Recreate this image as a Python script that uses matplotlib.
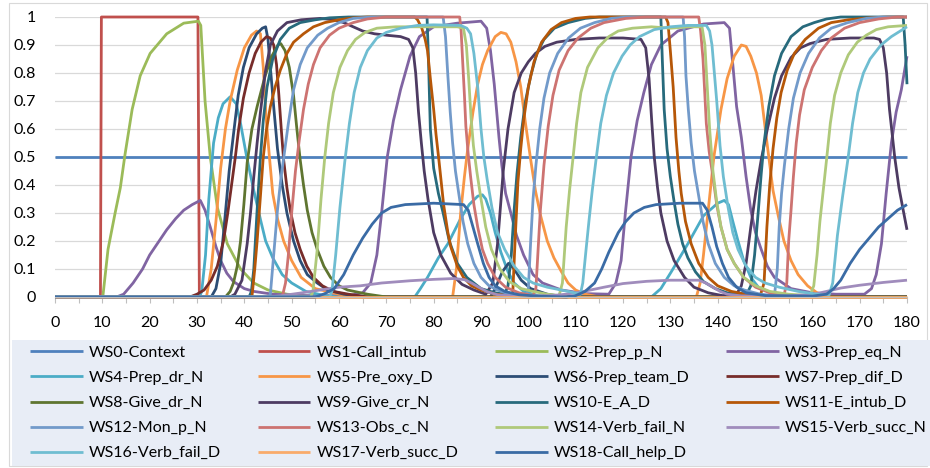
import numpy as np
import matplotlib
matplotlib.use('Agg')
import matplotlib.pyplot as plt
from matplotlib.ticker import MultipleLocator
from matplotlib.patches import Rectangle

plt.rcParams['font.family'] = ['Lato', 'DejaVu Sans']

# ---------------- data (time, activation) ----------------
ws0 = [(0, 0.5), (180, 0.5)]
ws1 = [(0, 0), (9.6, 0), (9.8, 1), (30.2, 1), (30.5, 0), (180, 0)]
ws2 = [(0, 0), (10.1, 0), (11.2, 0.17), (12.7, 0.3), (13.8, 0.39), (14.8, 0.51), (16.3, 0.67), (18, 0.79),
       (20.1, 0.87), (23.6, 0.94), (27.2, 0.978), (30.3, 0.985), (30.8, 0.97), (31.7, 0.7), (32.8, 0.5),
       (34.3, 0.32), (36.4, 0.19), (39.2, 0.1), (42, 0.05), (45, 0.025), (49, 0.01), (55, 0), (180, 0)]
ws3 = [(0, 0), (13, 0), (14.5, 0.01), (16.5, 0.05), (18.5, 0.1), (20, 0.15), (22, 0.2), (23.6, 0.24),
       (25.5, 0.28), (27.2, 0.31), (29, 0.33), (30.7, 0.345), (31.7, 0.31), (32.8, 0.25), (34, 0.18),
       (35, 0.13), (36.3, 0.085), (37.7, 0.055), (40, 0.03), (42, 0.02), (46, 0.01), (52, 0.005), (62, 0.005),
       (65, 0.015), (66.7, 0.05), (68, 0.15), (69, 0.3), (70.2, 0.5), (71.5, 0.63), (73, 0.74), (75, 0.86),
       (77, 0.93), (80, 0.965), (85, 0.978), (90, 0.985), (91.2, 0.96), (92, 0.88), (92.8, 0.76), (93.8, 0.57),
       (94.4, 0.47), (95.2, 0.37), (96.3, 0.3), (97.5, 0.22), (99, 0.15), (101, 0.08), (103, 0.05),
       (107, 0.025), (112, 0.012), (117, 0.01), (118.5, 0.05), (119.6, 0.13), (120.5, 0.3), (121.7, 0.5),
       (123, 0.63), (124.4, 0.73), (126, 0.83), (128, 0.9), (131.6, 0.95), (137, 0.975), (141.4, 0.98),
       (142.5, 0.96), (143.2, 0.83), (144, 0.68), (145, 0.57), (146, 0.43), (147, 0.31), (148, 0.23),
       (149.2, 0.17), (150.5, 0.11), (152, 0.07), (155.5, 0.03), (160, 0.015), (165, 0.01), (171, 0.01),
       (172.5, 0.03), (173.5, 0.08), (174.6, 0.19), (175.6, 0.37), (176.7, 0.55), (177.7, 0.66),
       (178.8, 0.74), (180, 0.86)]
ws4 = [(0, 0), (30.5, 0), (31, 0.02), (31.8, 0.15), (32.5, 0.35), (33.5, 0.55), (34.5, 0.64), (35.5, 0.69),
       (37, 0.715), (38.3, 0.69), (39.2, 0.62), (40.5, 0.5), (42, 0.38), (43.5, 0.27), (44.5, 0.2), (46, 0.14),
       (48, 0.08), (50, 0.05), (53, 0.02), (57, 0.005), (60, 0), (76, 0), (77.2, 0.03), (78.7, 0.07),
       (81, 0.14), (83, 0.19), (85.7, 0.28), (87.5, 0.33), (89.3, 0.36), (90.3, 0.365), (91, 0.35), (92, 0.3),
       (93, 0.23), (94.2, 0.16), (95.7, 0.09), (97, 0.05), (99, 0.02), (102, 0.005), (105, 0), (126, 0),
       (128, 0.03), (130.2, 0.09), (133.7, 0.19), (137, 0.29), (140, 0.335), (141.4, 0.345), (142.3, 0.33),
       (143.2, 0.27), (144.3, 0.2), (145.5, 0.13), (147, 0.07), (148.6, 0.035), (152, 0.01), (156, 0),
       (180, 0)]
ws5 = [(0, 0), (32, 0), (33, 0.1), (34, 0.27), (35, 0.46), (36, 0.6), (37, 0.7), (38.5, 0.81), (40, 0.89),
       (41.5, 0.935), (42.6, 0.95), (43.4, 0.94), (44, 0.82), (44.6, 0.64), (45.3, 0.5), (46, 0.37),
       (47, 0.28), (48.3, 0.2), (50, 0.13), (52, 0.07), (55, 0.03), (60, 0.01), (65, 0), (84, 0), (84.8, 0.1),
       (85.7, 0.3), (86.5, 0.43), (87.2, 0.53), (88.3, 0.66), (89.3, 0.76), (90.3, 0.83), (91.4, 0.88),
       (93, 0.93), (94.2, 0.945), (95.3, 0.94), (96.3, 0.91), (97.4, 0.84), (98.4, 0.75), (99.4, 0.62),
       (100.5, 0.49), (101.5, 0.38), (102.6, 0.29), (104, 0.2), (105.4, 0.14), (107, 0.09), (108.4, 0.05),
       (110, 0.025), (112, 0.01), (115, 0), (135.5, 0), (136.3, 0.05), (137, 0.15), (138, 0.31), (139.2, 0.5),
       (140.7, 0.67), (142, 0.78), (143.5, 0.86), (145, 0.9), (146, 0.895), (147, 0.86), (148.2, 0.8),
       (149.2, 0.72), (150.2, 0.58), (150.8, 0.5), (151.7, 0.38), (152.8, 0.29), (154, 0.2), (155.5, 0.13),
       (157, 0.08), (159, 0.04), (161, 0.015), (163, 0.005), (165, 0), (180, 0)]
ws6 = [(0, 0), (33, 0), (34, 0.03), (35, 0.12), (36, 0.3), (36.8, 0.45), (37.7, 0.58), (38.7, 0.72),
       (39.8, 0.82), (41, 0.89), (42.6, 0.94), (43.8, 0.96), (44.5, 0.965), (45, 0.92), (45.5, 0.82),
       (46.2, 0.68), (47, 0.53), (48, 0.4), (49, 0.3), (50.4, 0.2), (51.8, 0.13), (53.3, 0.08), (55.4, 0.05),
       (57.6, 0.025), (61, 0.01), (65, 0), (92, 0), (93, 0.03), (94.5, 0.09), (95.8, 0.12), (97, 0.1),
       (98.5, 0.06), (100.5, 0.03), (104, 0.01), (108, 0), (180, 0)]
ws7 = [(0, 0), (28.5, 0), (30, 0.01), (31.5, 0.025), (33, 0.06), (34.3, 0.11), (35.6, 0.2), (36.5, 0.3),
       (37.3, 0.4), (38.1, 0.5), (38.8, 0.6), (39.8, 0.71), (41, 0.8), (42.3, 0.87), (43.5, 0.91),
       (44.7, 0.93), (45.5, 0.925), (46.2, 0.9), (46.8, 0.83), (47.3, 0.72), (47.8, 0.6), (48.3, 0.49),
       (49, 0.39), (49.7, 0.31), (50.7, 0.23), (51.8, 0.17), (53.2, 0.11), (54.6, 0.07), (56.5, 0.04),
       (58.8, 0.02), (62, 0.01), (66, 0), (180, 0)]
ws8 = [(0, 0), (36, 0), (37, 0.02), (37.7, 0.05), (38.5, 0.11), (39.2, 0.2), (39.9, 0.33), (40.6, 0.48),
       (41.6, 0.6), (42.7, 0.68), (44.4, 0.79), (45.8, 0.86), (47.1, 0.9), (47.7, 0.905), (48.6, 0.88),
       (49.5, 0.82), (50.4, 0.72), (51.1, 0.6), (51.8, 0.49), (52.5, 0.4), (53.3, 0.31), (54.3, 0.23),
       (55.4, 0.17), (56.8, 0.11), (58.2, 0.07), (60, 0.04), (61.8, 0.025), (66, 0.01), (70, 0), (180, 0)]
ws9 = [(0, 0), (37, 0), (38, 0.01), (39.5, 0.06), (40.6, 0.19), (41.3, 0.3), (42, 0.43), (42.7, 0.55),
       (43.4, 0.66), (44.4, 0.8), (45.5, 0.9), (47, 0.95), (49, 0.98), (52, 0.99), (56, 0.995), (59, 0.99),
       (61, 0.98), (63, 0.965), (65, 0.95), (67.5, 0.94), (70, 0.935), (73, 0.93), (74.7, 0.92), (75.6, 0.89),
       (76.2, 0.8), (76.8, 0.66), (77.4, 0.55), (78, 0.45), (78.8, 0.35), (80, 0.23), (81.5, 0.15),
       (83.6, 0.085), (86, 0.045), (88.5, 0.025), (91, 0.01), (92.5, 0.05), (93.5, 0.19), (94.7, 0.45),
       (95.7, 0.6), (97, 0.73), (98.5, 0.8), (100, 0.84), (101.5, 0.87), (103.5, 0.895), (106, 0.91),
       (110, 0.92), (115, 0.925), (120, 0.925), (123.8, 0.92), (124.8, 0.89), (125.5, 0.78), (126.1, 0.62),
       (126.6, 0.5), (127.3, 0.39), (128, 0.3), (129.3, 0.2), (130.8, 0.13), (133, 0.07), (135, 0.035),
       (138, 0.015), (141, 0.005), (144, 0.01), (145, 0.04), (146, 0.12), (147, 0.25), (148.1, 0.38),
       (149.2, 0.49), (150.5, 0.6), (152, 0.71), (153.5, 0.79), (155.5, 0.855), (157.5, 0.89), (159.5, 0.905),
       (163, 0.92), (168, 0.925), (173, 0.925), (174.2, 0.92), (175, 0.89), (175.7, 0.8), (176.3, 0.67),
       (177.4, 0.5), (178.3, 0.39), (179.2, 0.31), (180, 0.24)]
ws10 = [(0, 0), (41, 0), (41.5, 0.02), (42, 0.1), (42.7, 0.31), (43.4, 0.5), (44, 0.63), (44.8, 0.75),
        (46, 0.85), (47.6, 0.92), (49.5, 0.96), (51.8, 0.98), (55, 0.99), (58, 0.997), (62, 1), (78.6, 1),
        (78.9, 0.85), (79.3, 0.6), (80, 0.46), (81, 0.37), (82, 0.3), (83.3, 0.2), (85, 0.12), (87, 0.07),
        (90, 0.03), (93, 0.015), (95, 0.01), (95.7, 0.04), (96.4, 0.15), (97, 0.31), (97.6, 0.44),
        (98.4, 0.57), (99.4, 0.7), (100.5, 0.79), (101.8, 0.87), (103.3, 0.92), (105.5, 0.96), (108.4, 0.98),
        (112, 0.995), (115, 1), (128, 1), (128.3, 0.85), (128.7, 0.67), (129.3, 0.53), (130, 0.43),
        (130.8, 0.34), (131.6, 0.26), (132.6, 0.19), (133.7, 0.14), (135.3, 0.09), (137, 0.055),
        (139.5, 0.03), (142, 0.015), (146, 0.005), (147, 0.04), (147.8, 0.15), (148.6, 0.31), (149.2, 0.44),
        (149.8, 0.55), (150.8, 0.68), (152, 0.79), (153.5, 0.87), (155.5, 0.93), (158, 0.965), (160.4, 0.98),
        (163, 0.993), (166, 1), (179.2, 1), (179.6, 0.9), (180, 0.76)]
ws11 = [(0, 0), (41.6, 0), (42.2, 0.1), (42.7, 0.2), (43.4, 0.36), (44, 0.5), (44.7, 0.6), (45.5, 0.68),
        (46.5, 0.75), (47.6, 0.81), (49, 0.87), (50.4, 0.91), (52.5, 0.94), (54.6, 0.965), (57, 0.98),
        (60, 0.99), (63, 0.997), (66, 1), (76, 1), (76.6, 0.99), (77.5, 0.96), (78.2, 0.92), (78.7, 0.88),
        (79.3, 0.78), (80, 0.67), (80.5, 0.58), (81.1, 0.49), (82.1, 0.33), (83, 0.23), (83.6, 0.18),
        (85, 0.11), (86.3, 0.07), (88, 0.04), (90, 0.025), (93, 0.01), (96, 0.005), (96.7, 0.01),
        (97.2, 0.2), (97.8, 0.41), (98.4, 0.53), (99, 0.63), (100, 0.75), (101.2, 0.84), (102.8, 0.91),
        (104.8, 0.955), (107, 0.98), (110, 0.995), (113, 1), (129, 1), (129.5, 0.98), (130, 0.88),
        (130.6, 0.75), (131.2, 0.57), (131.8, 0.45), (132.3, 0.37), (133.2, 0.27), (134.4, 0.19), (136, 0.12),
        (138, 0.07), (140, 0.04), (142.9, 0.02), (146, 0.01), (149, 0.005), (149.8, 0.05), (150.4, 0.25),
        (151, 0.4), (151.7, 0.53), (152.5, 0.64), (153.4, 0.73), (154.7, 0.81), (156.2, 0.87), (158.5, 0.92),
        (161.3, 0.96), (164, 0.98), (167.6, 0.99), (172, 0.997), (176, 1), (180, 1)]
ws12 = [(0, 0), (45, 0), (45.5, 0.01), (46.2, 0.15), (47, 0.31), (47.7, 0.42), (48.5, 0.52), (49.3, 0.62),
        (50.4, 0.74), (51.8, 0.83), (53.3, 0.89), (55.5, 0.935), (57.6, 0.96), (60, 0.98), (63, 0.995),
        (67, 1), (82, 1), (82.5, 0.93), (83, 0.79), (83.5, 0.66), (84, 0.55), (84.6, 0.45), (85.3, 0.37),
        (86.2, 0.27), (87.2, 0.19), (88.5, 0.12), (90, 0.07), (91.7, 0.04), (93.5, 0.025), (96, 0.01),
        (99.5, 0.005), (100, 0.03), (100.5, 0.2), (101, 0.35), (101.6, 0.47), (102.4, 0.6), (103.3, 0.71),
        (104.5, 0.8), (106.2, 0.87), (108.5, 0.925), (111, 0.96), (114, 0.98), (117.5, 0.995), (121, 1),
        (132.7, 1), (133, 0.93), (133.3, 0.79), (133.8, 0.67), (134.4, 0.55), (135.1, 0.45), (135.9, 0.37),
        (136.9, 0.27), (138, 0.19), (139.5, 0.12), (141.4, 0.07), (143.5, 0.04), (145.6, 0.025), (149, 0.01),
        (152, 0.005), (152.6, 0.1), (153, 0.25), (153.5, 0.37), (154.1, 0.47), (155, 0.6), (156, 0.71),
        (157.4, 0.8), (159.2, 0.87), (161.5, 0.925), (164, 0.96), (167.5, 0.98), (171.4, 0.995), (175, 1),
        (180, 1)]
ws13 = [(0, 0), (48, 0), (48.7, 0.05), (49.3, 0.15), (50, 0.3), (50.8, 0.45), (51.6, 0.56), (52.5, 0.67),
        (53.5, 0.76), (54.6, 0.83), (56, 0.89), (58, 0.935), (60, 0.96), (63, 0.98), (66, 0.993), (70, 1),
        (85.5, 1), (85.8, 0.95), (86.1, 0.85), (86.5, 0.72), (86.8, 0.61), (87.3, 0.51), (87.8, 0.43),
        (88.5, 0.33), (89.3, 0.25), (90.3, 0.17), (91.4, 0.12), (93, 0.07), (95.2, 0.035), (98, 0.015),
        (101, 0.005), (101.6, 0.03), (102, 0.15), (102.5, 0.3), (103.3, 0.47), (104.2, 0.61), (105.2, 0.72),
        (106.5, 0.81), (108.4, 0.88), (110.5, 0.925), (113.2, 0.96), (116, 0.98), (120.6, 0.995), (125, 1),
        (136, 1), (136.4, 0.95), (136.9, 0.85), (137.3, 0.72), (137.6, 0.62), (138.2, 0.52), (139, 0.43),
        (139.8, 0.33), (140.7, 0.25), (142, 0.17), (143.5, 0.12), (145.5, 0.07), (148, 0.035), (151, 0.015),
        (154, 0.005), (154.6, 0.05), (155, 0.2), (155.5, 0.31), (156, 0.43), (156.6, 0.55), (157.3, 0.65),
        (158.3, 0.74), (160, 0.82), (161.9, 0.88), (164, 0.925), (166.8, 0.96), (170, 0.98), (174, 0.993),
        (178, 1), (180, 1)]
ws14 = [(0, 0), (54, 0), (54.5, 0.02), (55.4, 0.17), (56.2, 0.35), (57, 0.5), (57.8, 0.62), (58.8, 0.73),
        (60.2, 0.82), (61.8, 0.88), (63.5, 0.92), (65.5, 0.945), (68, 0.96), (72, 0.965), (85, 0.965),
        (86.3, 0.96), (86.9, 0.9), (87.4, 0.78), (87.9, 0.64), (88.4, 0.54), (89.1, 0.45), (90, 0.35),
        (91, 0.25), (92.2, 0.17), (94, 0.1), (96, 0.055), (98.5, 0.03), (101, 0.02), (104, 0.01),
        (106.5, 0.005), (107.2, 0.05), (108, 0.25), (108.7, 0.38), (109.4, 0.49), (110.2, 0.62),
        (111.1, 0.73), (112.5, 0.82), (114.7, 0.89), (117, 0.93), (119, 0.95), (122, 0.96), (126, 0.965),
        (130, 0.96), (134, 0.965), (136.7, 0.965), (137.3, 0.9), (137.8, 0.75), (138.3, 0.6), (139, 0.45),
        (139.8, 0.34), (140.7, 0.25), (142, 0.17), (143.5, 0.12), (145.5, 0.07), (148, 0.04), (151, 0.02),
        (155, 0.01), (159.5, 0.005), (160.3, 0.04), (161, 0.15), (161.6, 0.27), (162.3, 0.38), (163, 0.49),
        (163.8, 0.62), (164.7, 0.72), (166, 0.8), (167.6, 0.865), (169.5, 0.91), (171.4, 0.935),
        (173.5, 0.955), (176, 0.965), (180, 0.97)]
ws15 = [(0, 0), (45, 0), (48, 0.005), (51.8, 0.014), (56, 0.025), (60, 0.035), (64.5, 0.04), (69, 0.05),
        (75, 0.058), (80, 0.063), (84.3, 0.066), (86.5, 0.062), (88, 0.05), (89.5, 0.035), (91.4, 0.018),
        (93.5, 0.008), (97, 0.003), (105, 0.005), (108, 0.01), (111.7, 0.02), (116, 0.035), (120, 0.048),
        (125, 0.056), (130, 0.06), (136, 0.06), (137.5, 0.05), (139, 0.035), (140.5, 0.02), (142, 0.01),
        (145, 0.004), (155, 0.004), (160.4, 0.01), (163, 0.02), (166, 0.032), (170, 0.042), (175, 0.052),
        (180, 0.06)]
ws16 = [(0, 0), (58, 0), (58.5, 0.02), (59.3, 0.15), (60.2, 0.32), (61.2, 0.48), (62.2, 0.62), (63.2, 0.73),
        (64.5, 0.82), (66, 0.88), (68, 0.925), (70, 0.945), (73, 0.96), (76.6, 0.97), (80, 0.972),
        (85.7, 0.97), (87, 0.96), (87.8, 0.94), (88.5, 0.87), (89.3, 0.75), (90, 0.6), (90.6, 0.5),
        (91.3, 0.42), (92.3, 0.32), (93.5, 0.23), (95, 0.17), (97, 0.11), (99, 0.07), (101, 0.05),
        (104, 0.035), (108.4, 0.02), (111, 0.01), (111.5, 0.05), (112.2, 0.17), (112.8, 0.27), (113.5, 0.38),
        (114.3, 0.49), (115.3, 0.62), (116.5, 0.72), (118, 0.8), (119.8, 0.86), (121.5, 0.9), (123.5, 0.93),
        (126.6, 0.955), (130, 0.965), (133.7, 0.97), (137.6, 0.97), (138.3, 0.95), (138.8, 0.9), (139.3, 0.8),
        (139.8, 0.7), (140.5, 0.54), (141.2, 0.43), (142.2, 0.32), (143.2, 0.23), (144.3, 0.17), (146, 0.11),
        (148, 0.07), (150, 0.05), (153, 0.035), (157, 0.02), (161, 0.01), (163.5, 0.005), (164.3, 0.05),
        (165.3, 0.22), (166.4, 0.36), (167.5, 0.49), (168.5, 0.62), (169.6, 0.73), (170.8, 0.8),
        (172.2, 0.85), (174.5, 0.9), (176.7, 0.93), (180, 0.965)]
ws17 = [(0, 0), (180, 0)]
ws18 = [(0, 0), (55, 0), (57, 0.012), (59, 0.03), (61, 0.08), (63, 0.15), (65, 0.21), (67, 0.26), (69, 0.3),
        (71, 0.32), (74, 0.33), (80, 0.335), (86.3, 0.33), (87.3, 0.31), (88.3, 0.25), (89.3, 0.19),
        (90.5, 0.12), (91.7, 0.07), (93, 0.04), (95, 0.02), (98, 0.008), (102, 0.003), (108, 0),
        (110, 0.005), (112, 0.02), (114, 0.05), (115.5, 0.1), (117, 0.16), (119, 0.23), (120.6, 0.27),
        (122.3, 0.3), (124.5, 0.32), (127, 0.33), (132, 0.335), (136.8, 0.335), (137.8, 0.31), (138.8, 0.25),
        (139.8, 0.18), (141, 0.12), (142.3, 0.07), (144, 0.035), (146, 0.015), (150, 0.005), (160, 0.003),
        (163, 0.01), (164.5, 0.03), (166, 0.06), (168, 0.12), (170, 0.17), (172, 0.21), (174, 0.25),
        (176, 0.28), (178, 0.31), (180, 0.33)]

series_names = ['WS0-Context', 'WS1-Call_intub', 'WS2-Prep_p_N', 'WS3-Prep_eq_N', 'WS4-Prep_dr_N',
                'WS5-Pre_oxy_D', 'WS6-Prep_team_D', 'WS7-Prep_dif_D', 'WS8-Give_dr_N', 'WS9-Give_cr_N',
                'WS10-E_A_D', 'WS11-E_intub_D', 'WS12-Mon_p_N', 'WS13-Obs_c_N', 'WS14-Verb_fail_N',
                'WS15-Verb_succ_N', 'WS16-Verb_fail_D', 'WS17-Verb_succ_D', 'WS18-Call_help_D']
series_data = [ws0, ws1, ws2, ws3, ws4, ws5, ws6, ws7, ws8, ws9, ws10, ws11, ws12, ws13, ws14, ws15,
               ws16, ws17, ws18]
series_colors = ['#4F81BD', '#C0504D', '#9BBB59', '#8064A2', '#4BACC6', '#F79646', '#2C4D75', '#772C2A',
                 '#5F7530', '#4D3B62', '#276A7C', '#B65708', '#729ACA', '#CD7371', '#AFC97A', '#A08CBC',
                 '#6FBDD1', '#F9AB6B', '#3A6BA5']
x_ticks = list(range(0, 181, 10))
y_ticks = [0, 0.1, 0.2, 0.3, 0.4, 0.5, 0.6, 0.7, 0.8, 0.9, 1]
y_labels = ['0', '0.1', '0.2', '0.3', '0.4', '0.5', '0.6', '0.7', '0.8', '0.9', '1']

# ---------------- figure ----------------
W, H = 930, 468
fig = plt.figure(figsize=(W / 100, H / 100), dpi=100)
fig.patches.append(Rectangle((9 / W, 2 / H), 918 / W, 463 / H, transform=fig.transFigure,
                             fill=False, ec='#D9D9D9', lw=0.8))
# legend background
fig.patches.append(Rectangle((12 / W, 2 / H), (W - 12) / W, 126 / H, transform=fig.transFigure,
                             fc='#E8EDF6', ec='none'))

ax = fig.add_axes([55 / W, 1 - 297 / H, 852 / W, 280 / H])
handles = []
for name, col, data in zip(series_names, series_colors, series_data):
    arr = np.array(data, dtype=float)
    ln, = ax.plot(arr[:, 0], arr[:, 1], color=col, lw=2.0, label=name, clip_on=False,
                  solid_joinstyle='round', solid_capstyle='butt')
    handles.append(ln)

ax.set_xlim(0, 180)
ax.set_ylim(0, 1)
ax.set_xticks(x_ticks)
ax.xaxis.set_minor_locator(MultipleLocator(5))
ax.set_yticks(y_ticks)
ax.set_yticklabels(y_labels)
ax.grid(axis='y', color='#D9D9D9', lw=0.9)
ax.set_axisbelow(True)
for s in ['left', 'top', 'right']:
    ax.spines[s].set_visible(False)
ax.spines['bottom'].set_color('#BFBFBF')
ax.tick_params(axis='y', length=0, pad=14, labelsize=11.5, labelcolor='#000000')
ax.tick_params(axis='x', which='both', length=4, color='#BFBFBF', width=0.8, pad=10, labelsize=11.5)

# legend, row-major order like the original (4 columns)
order = [0, 4, 8, 12, 16, 1, 5, 9, 13, 17, 2, 6, 10, 14, 18, 3, 7, 11, 15]
fig.legend([handles[i] for i in order], [series_names[i] for i in order],
           loc='center', bbox_to_anchor=(30 / W, 2 / H, 897 / W, 126 / H), mode='expand', ncol=4,
           frameon=False, fontsize=11.5, handlelength=3.3, handletextpad=0.4, labelspacing=0.68,
           borderpad=0, borderaxespad=0, columnspacing=1.0)

fig.savefig('out.png', dpi=100)
